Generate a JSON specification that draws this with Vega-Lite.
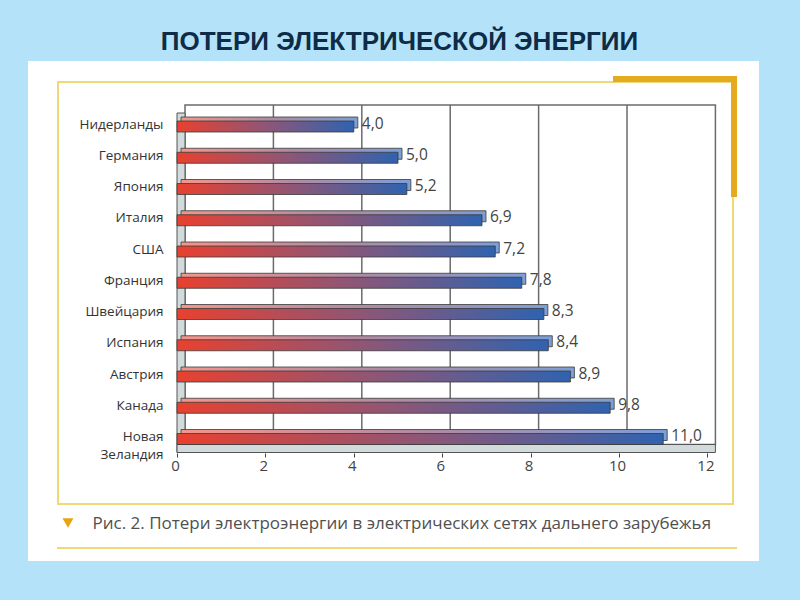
{
  "$schema": "https://vega.github.io/schema/vega-lite/v6.json",
  "width": 731,
  "height": 500,
  "autosize": {"type": "none"},
  "padding": {"left": 28, "top": 61, "right": 41, "bottom": 39},
  "background": "#b4e3f9",
  "config": {
    "view": {"fill": "white", "stroke": null},
    "locale": {"number": {"decimal": ",", "thousands": " ", "grouping": [3], "currency": ["", ""]}},
    "font": "Open Sans"
  },
  "title": {
    "text": "ПОТЕРИ ЭЛЕКТРИЧЕСКОЙ ЭНЕРГИИ",
    "font": "Liberation Sans",
    "fontSize": 26,
    "fontWeight": "bold",
    "color": "#0e2b47",
    "anchor": "middle",
    "dx": 6,
    "offset": 6
  },
  "datasets": {
    "losses": [
      {"country": "Нидерланды", "value": 4.0},
      {"country": "Германия", "value": 5.0},
      {"country": "Япония", "value": 5.2},
      {"country": "Италия", "value": 6.9},
      {"country": "США", "value": 7.2},
      {"country": "Франция", "value": 7.8},
      {"country": "Швейцария", "value": 8.3},
      {"country": "Испания", "value": 8.4},
      {"country": "Австрия", "value": 8.9},
      {"country": "Канада", "value": 9.8},
      {"country": "Новая Зеландия", "value": 11.0}
    ],
    "grid": [{"v": 2}, {"v": 4}, {"v": 6}, {"v": 8}, {"v": 10}],
    "one": [{}]
  },
  "layer": [
    {
      "data": {"name": "losses"},
      "mark": {"type": "bar", "opacity": 0},
      "encoding": {
        "x": {
          "field": "value", "type": "quantitative",
          "scale": {"domain": [-3.371, 13.167], "nice": false, "zero": false},
          "axis": {
            "values": [0, 2, 4, 6, 8, 10, 12],
            "offset": -108,
            "domain": false,
            "grid": false,
            "ticks": true,
            "tickSize": 4,
            "tickColor": "#444444",
            "labelFontSize": 15,
            "labelColor": "#444444",
            "labelPadding": 1,
            "labelOffset": -2,
            "labelFont": "Open Sans",
            "format": "d",
            "title": "Рис. 2. Потери электроэнергии в электрических сетях дальнего зарубежья",
            "titleFont": "Open Sans",
            "titleFontSize": 17,
            "titleFontWeight": "normal",
            "titleColor": "#505050",
            "titleAlign": "left",
            "titleBaseline": "middle",
            "titleX": 64,
            "titleY": 70,
            "zindex": 1
          }
        },
        "x2": {"datum": 0},
        "y": {
          "field": "country", "type": "nominal", "sort": null,
          "scale": {
            "domain": ["Нидерланды", "Германия", "Япония", "Италия", "США", "Франция", "Швейцария", "Испания", "Австрия", "Канада", "Новая Зеландия"],
            "range": [60, 383.5],
            "paddingInner": 0.648, "paddingOuter": 0
          },
          "axis": {
            "title": null,
            "offset": -148,
            "domain": false,
            "grid": false,
            "ticks": false,
            "labelPadding": 13,
            "labelOffset": -2,
            "labelFontSize": 13.5,
            "labelColor": "#333333",
            "labelFont": "Open Sans",
            "labelLineHeight": 18,
            "labelExpr": "split(datum.label, ' ')",
            "zindex": 1
          }
        }
      }
    },
    {
      "data": {"name": "one"},
      "mark": {"type": "rect", "fill": null, "stroke": "#f0d778", "strokeWidth": 2, "yOffset": -44.5, "y2Offset": 65},
      "encoding": {
        "x": {"datum": -2.692, "type": "quantitative"},
        "x2": {"datum": 12.579},
        "y": {"datum": "Нидерланды", "type": "nominal", "bandPosition": 0.5},
        "y2": {"datum": "Новая Зеландия", "bandPosition": 0.5}
      }
    },
    {
      "data": {"name": "one"},
      "mark": {"type": "rect", "fill": "#e3ab1d", "yOffset": -50.5, "y2Offset": -44.5},
      "encoding": {
        "x": {"datum": 9.864, "type": "quantitative"},
        "x2": {"datum": 12.67},
        "y": {"datum": "Нидерланды", "type": "nominal", "bandPosition": 0.5},
        "y2": {"datum": "Нидерланды", "bandPosition": 0.5}
      }
    },
    {
      "data": {"name": "one"},
      "mark": {"type": "rect", "fill": "#e3ab1d", "yOffset": -50.5, "y2Offset": 70.5},
      "encoding": {
        "x": {"datum": 12.534, "type": "quantitative"},
        "x2": {"datum": 12.67},
        "y": {"datum": "Нидерланды", "type": "nominal", "bandPosition": 0.5},
        "y2": {"datum": "Нидерланды", "bandPosition": 0.5}
      }
    },
    {
      "data": {"name": "one"},
      "mark": {"type": "rule", "stroke": "#f0d778", "strokeWidth": 2, "yOffset": 109},
      "encoding": {
        "x": {"datum": -2.715, "type": "quantitative"},
        "x2": {"datum": 12.67},
        "y": {"datum": "Новая Зеландия", "type": "nominal", "bandPosition": 0.5}
      }
    },
    {
      "data": {"name": "one"},
      "mark": {"type": "point", "shape": "triangle-down", "filled": true, "fill": "#e6a312", "opacity": 1, "size": 120, "yOffset": 84},
      "encoding": {
        "x": {"datum": -2.466, "type": "quantitative"},
        "y": {"datum": "Новая Зеландия", "type": "nominal", "bandPosition": 0.5}
      }
    },
    {
      "data": {"name": "one"},
      "mark": {"type": "rect", "fill": "white", "stroke": "#6b6b6b", "strokeWidth": 1.5, "xOffset": 8, "x2Offset": 8, "yOffset": -16},
      "encoding": {
        "x": {"datum": 0, "type": "quantitative"},
        "x2": {"datum": 12},
        "y": {"datum": "Нидерланды", "type": "nominal", "bandPosition": 0},
        "y2": {"datum": "Новая Зеландия", "bandPosition": 1}
      }
    },
    {
      "data": {"name": "grid"},
      "mark": {"type": "rule", "stroke": "#6b6b6b", "strokeWidth": 1.5, "xOffset": 8, "yOffset": -16},
      "encoding": {
        "x": {"field": "v", "type": "quantitative"},
        "y": {"datum": "Нидерланды", "type": "nominal", "bandPosition": 0},
        "y2": {"datum": "Новая Зеландия", "bandPosition": 1}
      }
    },
    {
      "data": {"name": "one"},
      "mark": {"type": "rect", "fill": "#d2dbdb", "stroke": "#555555", "strokeWidth": 1, "x2Offset": 8, "yOffset": -8, "y2Offset": 8},
      "encoding": {
        "x": {"datum": 0, "type": "quantitative"},
        "x2": {"datum": 0},
        "y": {"datum": "Нидерланды", "type": "nominal", "bandPosition": 0},
        "y2": {"datum": "Новая Зеландия", "bandPosition": 1}
      }
    },
    {
      "data": {"name": "one"},
      "mark": {"type": "rect", "fill": "#d2dbdb", "stroke": "#555555", "strokeWidth": 1, "x2Offset": 8, "y2Offset": 8},
      "encoding": {
        "x": {"datum": 0, "type": "quantitative"},
        "x2": {"datum": 12},
        "y": {"datum": "Новая Зеландия", "type": "nominal", "bandPosition": 1},
        "y2": {"datum": "Новая Зеландия", "bandPosition": 1}
      }
    },
    {
      "data": {"name": "losses"},
      "mark": {
        "type": "bar",
        "xOffset": 4, "x2Offset": 4, "yOffset": -4,
        "stroke": "#3a3a3a", "strokeWidth": 0.8,
        "fill": {"gradient": "linear", "x1": 0, "x2": 1, "y1": 0, "y2": 0,
          "stops": [{"offset": 0, "color": "#f3958a"}, {"offset": 0.5, "color": "#b08aa4"}, {"offset": 1, "color": "#7d9ed6"}]}
      },
      "encoding": {
        "x": {"field": "value", "type": "quantitative"},
        "x2": {"datum": 0},
        "y": {"field": "country", "type": "nominal", "sort": null}
      }
    },
    {
      "data": {"name": "losses"},
      "mark": {
        "type": "bar",
        "stroke": "#3a3a3a", "strokeWidth": 0.8,
        "fill": {"gradient": "linear", "x1": 0, "x2": 1, "y1": 0, "y2": 0,
          "stops": [{"offset": 0, "color": "#e8412f"}, {"offset": 0.5, "color": "#8f5676"}, {"offset": 1, "color": "#2f63b0"}]}
      },
      "encoding": {
        "x": {"field": "value", "type": "quantitative"},
        "x2": {"datum": 0},
        "y": {"field": "country", "type": "nominal", "sort": null}
      }
    },
    {
      "data": {"name": "losses"},
      "mark": {"type": "text", "align": "left", "baseline": "middle", "dx": 8, "dy": -3, "fontSize": 15.5, "color": "#444444", "font": "Open Sans"},
      "encoding": {
        "x": {"field": "value", "type": "quantitative"},
        "y": {"field": "country", "type": "nominal", "sort": null},
        "text": {"field": "value", "type": "quantitative", "format": ".1f"}
      }
    }
  ]
}
